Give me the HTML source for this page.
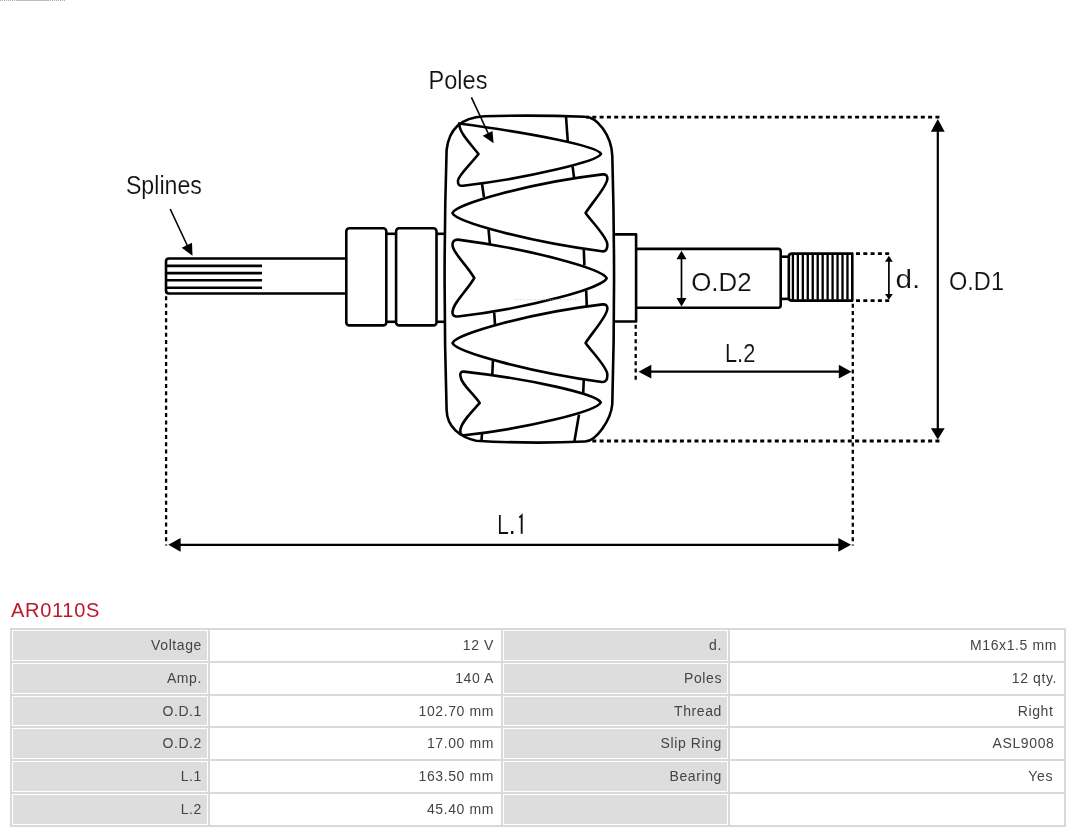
<!DOCTYPE html>
<html><head><meta charset="utf-8"><title>AR0110S</title>
<style>
html,body{margin:0;padding:0;background:#fff;width:1080px;height:832px;overflow:hidden;font-family:"Liberation Sans",sans-serif;}
svg{position:absolute;left:0;top:0;will-change:transform;}
.st{fill:none;stroke:#000;stroke-width:2.6;stroke-linejoin:round;stroke-linecap:butt;}
.thin{stroke:#000;stroke-width:2.3;}
.dim{stroke:#000;stroke-width:2.2;}
.lead{stroke:#000;stroke-width:1.6;}
.fill{fill:#000;stroke:none;}
.dot{stroke:#000;stroke-dasharray:4 3.3;}
.thin2{stroke-width:1.7;}
text{font-family:"Liberation Sans",sans-serif;fill:#111;stroke:#fff;stroke-width:0.15px;paint-order:normal;}
h1{will-change:transform;position:absolute;left:11px;top:597.5px;margin:0;font-weight:normal;font-size:20px;color:#bc1a2a;line-height:24px;letter-spacing:0.7px;}
table{will-change:transform;position:absolute;left:10px;top:628px;width:1056px;border-spacing:2px;background:#d9d9d9;font-size:14px;color:#444;letter-spacing:0.6px;}
td{border:1px solid #fff;height:29px;padding:0 5px;text-align:right;box-sizing:content-box;}
td.k{background:#dddddd;}
td.v{background:#fff;padding-right:6px;}
td span{position:relative;top:-1px;}
tr.r3 td{height:28px;}
tr.r3 td span{top:0;}
.art{position:absolute;left:0;top:0;width:65px;height:1px;background:repeating-linear-gradient(90deg,#aaa 0 1px,#fff 1px 2px);}
.art2{position:absolute;left:16px;top:0;width:32px;height:1px;background:#bbb;}
</style></head><body>
<svg width="1080" height="600" viewBox="0 0 1080 600">
<path class="st" d="M484 116.2 Q535 114.8 585 116.8 C597 117 611.5 135 612.3 156 Q615.8 280 612.3 404 C611 420 596 441.5 585 441.5 Q530 444 476 440.7 C460 437 447 427 446.6 410 Q442.6 280 446.6 150 C449 128 462 117.5 484 116.2 Z"/>
<path class="st" d="M459 123.5 C530 133 598 146 601 154 C598 161 530 178 463 185.7 Q457.5 186.5 458 180.5 C458.5 175 470 165 478.5 154 C470 143 460 134 459 123.5 Z"/>
<path class="st" d="M602.5 174.4 C530 183 456 204 452.4 213 C456 222 530 242 601.9 251.3 Q607.8 252 607.3 244.1 C607 237 592 222 585.6 212.9 C592 203 607 186 607.3 179.2 Q607.8 174 602.5 174.4 Z"/>
<path class="st" d="M458 239.6 C530 249 603 269 606.7 278.3 C603 288 530 308 458 316.5 Q452 317 452.6 311.7 C453 303 466 292 474.3 278 C466 264 453 253 452.6 245.6 Q452 239.5 458 239.6 Z"/>
<path class="st" d="M602.5 304.4 C530 313 456 334 452.5 343 C456 352 530 372 601.9 382 Q607.8 382.5 607.3 374.1 C607 367 592 352 585.6 342.9 C592 333 607 316 607.3 309.2 Q607.8 304 602.5 304.4 Z"/>
<path class="st" d="M464 371.6 C530 379 597 394 600.8 402.5 C597 411 530 428 464 435.3 Q459.8 435.5 460.4 430 C461 422 472 412 479.7 402.9 C472 392 461 384 460.4 375.8 Q459.8 371.3 464 371.6 Z"/>
<line class="st" x1="482" y1="183.5" x2="483.9" y2="197"/>
<line class="st" x1="488.5" y1="229.5" x2="489.9" y2="244"/>
<line class="st" x1="494.2" y1="312.5" x2="495" y2="325"/>
<line class="st" x1="492.9" y1="361" x2="492.3" y2="375"/>
<line class="st" x1="482" y1="433.5" x2="481.5" y2="441"/>
<line class="st" x1="566" y1="116.5" x2="567.8" y2="141.5"/>
<line class="st" x1="572.6" y1="166.5" x2="574.1" y2="178"/>
<line class="st" x1="583.8" y1="249.5" x2="584.4" y2="265.5"/>
<line class="st" x1="586.2" y1="290.5" x2="586.8" y2="306.5"/>
<line class="st" x1="583.8" y1="379.5" x2="583.2" y2="393"/>
<line class="st" x1="579" y1="414.5" x2="574.4" y2="441.5"/>
<path class="st" d="M345.5 258.5 L169 258.5 Q166 258.5 166 261.5 L166 290.5 Q166 293.5 169 293.5 L345.5 293.5"/>
<line class="st" x1="166" y1="265.9" x2="262" y2="265.9"/>
<line class="st" x1="166" y1="273.1" x2="262" y2="273.1"/>
<line class="st" x1="166" y1="280.3" x2="262" y2="280.3"/>
<line class="st" x1="166" y1="287.8" x2="262" y2="287.8"/>
<rect class="st" x="346.3" y="228.3" width="40" height="97.1" rx="3"/>
<rect class="st" x="396.1" y="228.3" width="40.4" height="97.1" rx="3"/>
<line class="st" x1="386.3" y1="233.8" x2="396.1" y2="233.8"/>
<line class="st" x1="386.3" y1="321.8" x2="396.1" y2="321.8"/>
<line class="st" x1="436.5" y1="233.8" x2="445" y2="233.8"/>
<line class="st" x1="436.5" y1="321.8" x2="445" y2="321.8"/>
<path class="st" d="M613.3 234.4 L636.1 234.4 L636.1 321.5 L613.3 321.5"/>
<path class="st" d="M636.1 248.9 L778.2 248.9 Q780.7 248.9 780.7 251.4 L780.7 305.3 Q780.7 307.8 778.2 307.8 L636.1 307.8"/>
<line class="st" x1="780.7" y1="256.7" x2="789" y2="256.7"/>
<line class="st" x1="780.7" y1="298.9" x2="789" y2="298.9"/>
<path class="st" d="M852.3 253.6 L792 253.6 Q788.8 253.6 788.8 256.8 L788.8 297.4 Q788.8 300.6 792 300.6 L852.3 300.6 Z"/>
<line class="thin" x1="792.90" y1="254.5" x2="792.90" y2="299.7"/>
<line class="thin" x1="797.86" y1="254.5" x2="797.86" y2="299.7"/>
<line class="thin" x1="802.82" y1="254.5" x2="802.82" y2="299.7"/>
<line class="thin" x1="807.78" y1="254.5" x2="807.78" y2="299.7"/>
<line class="thin" x1="812.74" y1="254.5" x2="812.74" y2="299.7"/>
<line class="thin" x1="817.70" y1="254.5" x2="817.70" y2="299.7"/>
<line class="thin" x1="822.66" y1="254.5" x2="822.66" y2="299.7"/>
<line class="thin" x1="827.62" y1="254.5" x2="827.62" y2="299.7"/>
<line class="thin" x1="832.58" y1="254.5" x2="832.58" y2="299.7"/>
<line class="thin" x1="837.54" y1="254.5" x2="837.54" y2="299.7"/>
<line class="thin" x1="842.50" y1="254.5" x2="842.50" y2="299.7"/>
<line class="thin" x1="847.46" y1="254.5" x2="847.46" y2="299.7"/>
<line x1="939.4" y1="117.2" x2="586" y2="117.2" class="dot" stroke-width="2.8"/>
<line x1="939.4" y1="441" x2="590" y2="441" class="dot" stroke-width="2.8"/>
<line x1="166.1" y1="296.3" x2="166.1" y2="545.6" class="dot" stroke-width="2.3"/>
<line x1="852.8" y1="303.7" x2="852.8" y2="545.6" class="dot" stroke-width="2.3"/>
<line x1="635.7" y1="379.8" x2="635.7" y2="322.5" class="dot" stroke-width="2.3"/>
<line x1="856" y1="253.6" x2="891.5" y2="253.6" class="dot" stroke-width="2.8"/>
<line x1="856" y1="300.6" x2="891.5" y2="300.6" class="dot" stroke-width="2.8"/>
<path d="M515 299.7 H580" stroke="#bbb" stroke-width="0.8" stroke-dasharray="1 1.5"/>
<line class="dim" x1="937.8" y1="125" x2="937.8" y2="433"/>
<path d="M937.8 118.9 L930.9 131.7 L944.6999999999999 131.7 Z" class="fill"/>
<path d="M937.8 439.4 L930.9 428.3 L944.6999999999999 428.3 Z" class="fill"/>
<line class="dim thin2" x1="681.5" y1="255" x2="681.5" y2="302"/>
<path d="M681.5 250.7 L676.5 259.2 L686.5 259.2 Z" class="fill"/>
<path d="M681.5 306.6 L676.5 298 L686.5 298 Z" class="fill"/>
<line class="dim thin2" x1="888.9" y1="258" x2="888.9" y2="296"/>
<path d="M888.9 255.8 L885.0 261.8 L892.8 261.8 Z" class="fill"/>
<path d="M888.9 299.7 L885.0 294 L892.8 294 Z" class="fill"/>
<line class="dim" x1="175" y1="544.8" x2="845" y2="544.8"/>
<path d="M168.3 544.8 L180.6 537.9 L180.6 551.6999999999999 Z" class="fill"/>
<path d="M851.1 544.8 L838.3 537.9 L838.3 551.6999999999999 Z" class="fill"/>
<line class="dim" x1="645" y1="371.7" x2="845" y2="371.7"/>
<path d="M638.5 371.7 L651.3 364.8 L651.3 378.59999999999997 Z" class="fill"/>
<path d="M851.5 371.7 L838.8 364.8 L838.8 378.59999999999997 Z" class="fill"/>
<line class="lead" x1="170.2" y1="209" x2="187.5" y2="246"/>
<path class="fill" d="M192.5 255.8 L181.7 247.8 L192 242.7 Z"/>
<line class="lead" x1="471.4" y1="97.3" x2="488.5" y2="134"/>
<path class="fill" d="M493.6 143.3 L482.7 135.7 L492.5 130.9 Z"/>
<text x="497.2" y="533.7" font-size="26.8" textLength="11.5" lengthAdjust="spacingAndGlyphs">L</text>
<text x="508.4" y="533.7" font-size="26.8">.</text>
<path d="M519.3 517.6 L521.7 515.4 L521.7 533.7" fill="none" stroke="#111" stroke-width="1.9" stroke-linejoin="miter"/>
<text x="125.9" y="193.6" font-size="25.8" textLength="76" lengthAdjust="spacingAndGlyphs">Splines</text>
<text x="428.5" y="89" font-size="26.4" textLength="59" lengthAdjust="spacingAndGlyphs">Poles</text>
<text x="691.2" y="290.8" font-size="26.5" textLength="60.4" lengthAdjust="spacingAndGlyphs">O.D2</text>
<text x="949" y="290" font-size="25.8" textLength="55" lengthAdjust="spacingAndGlyphs">O.D1</text>
<text x="725" y="361.7" font-size="25.8" textLength="30.3" lengthAdjust="spacingAndGlyphs">L.2</text>
<text x="895.5" y="287.8" font-size="25.8" textLength="24.8" lengthAdjust="spacingAndGlyphs">d.</text>
</svg>
<h1>AR0110S</h1>
<div class="art"></div><div class="art2"></div>
<table>
<colgroup><col style="width:196px"><col style="width:291px"><col style="width:225px"><col style="width:334px"></colgroup>
<tr class="r1"><td class="k"><span>Voltage</span></td><td class="v"><span>12 V</span></td><td class="k"><span>d.</span></td><td class="v"><span>M16x1.5 mm</span></td></tr>
<tr class="r2"><td class="k"><span>Amp.</span></td><td class="v"><span>140 A</span></td><td class="k"><span>Poles</span></td><td class="v"><span>12 qty.</span></td></tr>
<tr class="r3"><td class="k"><span>O.D.1</span></td><td class="v"><span>102.70 mm</span></td><td class="k"><span>Thread</span></td><td class="v"><span><i style="font-style:normal;margin-right:3.5px">Right</i></span></td></tr>
<tr class="r4"><td class="k"><span>O.D.2</span></td><td class="v"><span>17.00 mm</span></td><td class="k"><span>Slip Ring</span></td><td class="v"><span><i style="font-style:normal;margin-right:2.6px">ASL9008</i></span></td></tr>
<tr class="r5"><td class="k"><span>L.1</span></td><td class="v"><span>163.50 mm</span></td><td class="k"><span>Bearing</span></td><td class="v"><span><i style="font-style:normal;margin-right:4px">Yes</i></span></td></tr>
<tr class="r6"><td class="k"><span>L.2</span></td><td class="v"><span>45.40 mm</span></td><td class="k"><span></span></td><td class="v"><span></span></td></tr>
</table>
</body></html>
